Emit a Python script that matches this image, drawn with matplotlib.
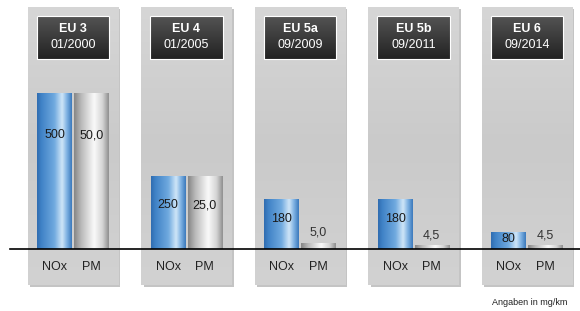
import numpy as np
import matplotlib.pyplot as plt
from matplotlib.colors import LinearSegmentedColormap

plt.rcParams['font.family'] = ['Liberation Sans', 'DejaVu Sans']

stages = ['EU 3', 'EU 4', 'EU 5a', 'EU 5b', 'EU 6']
dates = ['01/2000', '01/2005', '09/2009', '09/2011', '09/2014']
nox_labels = ['500', '250', '180', '180', '80']
pm_labels = ['50,0', '25,0', '5,0', '4,5', '4,5']
# bar heights as drawn in the picture (the original is not to scale), PM on a x10 scale
nox_height = [500, 234, 160, 160, 55]
pm_height = [500, 234, 19, 12, 12]

blue = LinearSegmentedColormap.from_list('blue', [
    (0.0, '#2f6cb0'), (0.12, '#3f82c6'), (0.5, '#70aadf'),
    (0.72, '#d0e6f8'), (0.86, '#7db1e2'), (1.0, '#3a78bb')])
silver = LinearSegmentedColormap.from_list('silver', [
    (0.0, '#858585'), (0.2, '#b8b8b8'), (0.58, '#fafafa'),
    (0.82, '#d4d4d4'), (1.0, '#8e8e8e')])
dark = LinearSegmentedColormap.from_list('dark', ['#222222', '#555555'])
panel_cm = LinearSegmentedColormap.from_list('panel', ['#d6d6d6', '#cacaca', '#d2d2d2'])


def fill_gradient(ax, patch, cmap, vertical=False):
    x0, y0 = patch.get_x(), patch.get_y()
    w, h = patch.get_width(), patch.get_height()
    g = np.linspace(0, 1, 256)
    img = g.reshape(-1, 1) if vertical else g.reshape(1, -1)
    im = ax.imshow(img, extent=[x0, x0 + w, y0, y0 + h], origin='lower',
                   aspect='auto', cmap=cmap, zorder=patch.get_zorder(),
                   interpolation='bicubic')
    im.set_clip_path(patch)


fig = plt.figure(figsize=(5.8, 3.11), dpi=100)
ax = fig.add_axes([0, 0, 1, 1])
ax.axis('off')

x = np.arange(len(stages))

# panels with shadow
ax.bar(x + 0.02, 891, bottom=-121, width=0.793, color='#c4c4c4', zorder=0.5)
panels = ax.bar(x, 891, bottom=-115, width=0.793, color='#d0d0d0', zorder=1)
for p in panels:
    fill_gradient(ax, p, panel_cm.reversed(), vertical=True)

# header boxes
heads = ax.bar(x, 138, bottom=609, width=0.64, color='#333333', zorder=2)
for p in heads:
    fill_gradient(ax, p, dark, vertical=True)
ax.bar(x, 138, bottom=609, width=0.64, fill=False, edgecolor='white',
       linewidth=0.8, zorder=3)
for i in x:
    ax.text(i, 705, stages[i], ha='center', va='center', color='white',
            fontsize=9, fontweight='bold', zorder=4)
    ax.text(i, 653, dates[i], ha='center', va='center', color='white',
            fontsize=9, zorder=4)

# bars
nb = ax.bar(x - 0.162, nox_height, width=0.305, color='#4a86c6', zorder=3)
pb = ax.bar(x + 0.160, pm_height, width=0.300, color='#cccccc', zorder=3)
for p in nb:
    fill_gradient(ax, p, blue)
for p in pb:
    fill_gradient(ax, p, silver)

for i in x:
    h = nox_height[i]
    ax.text(i - 0.162, h - min(0.4 * h, 135), nox_labels[i], ha='center',
            va='center', fontsize=9, color='#1a1a1a', zorder=5)
    h = pm_height[i]
    if h > 100:
        ax.text(i + 0.160, h - min(0.4 * h, 135), pm_labels[i], ha='center',
                va='center', fontsize=9, color='#1a1a1a', zorder=5)
    else:
        ax.annotate(pm_labels[i], (i + 0.160, h), xytext=(0, 3),
                    textcoords='offset points', ha='center', va='bottom',
                    fontsize=9, color='#333333', zorder=5)
    ax.text(i - 0.162, -58, 'NOx', ha='center', va='center', fontsize=9,
            color='#222222', zorder=5)
    ax.text(i + 0.160, -58, 'PM', ha='center', va='center', fontsize=9,
            color='#222222', zorder=5)

ax.axhline(0, xmin=10 / 580, xmax=1, color='black', linewidth=1.2, zorder=6)

fig.text(0.979, 0.026, 'Angaben in mg/km', ha='right', va='center',
         fontsize=6.5, color='#222222')

ax.set_xlim(-0.643, 4.467)
ax.set_ylim(-199, 798)

fig.savefig('out.png', dpi=100)
